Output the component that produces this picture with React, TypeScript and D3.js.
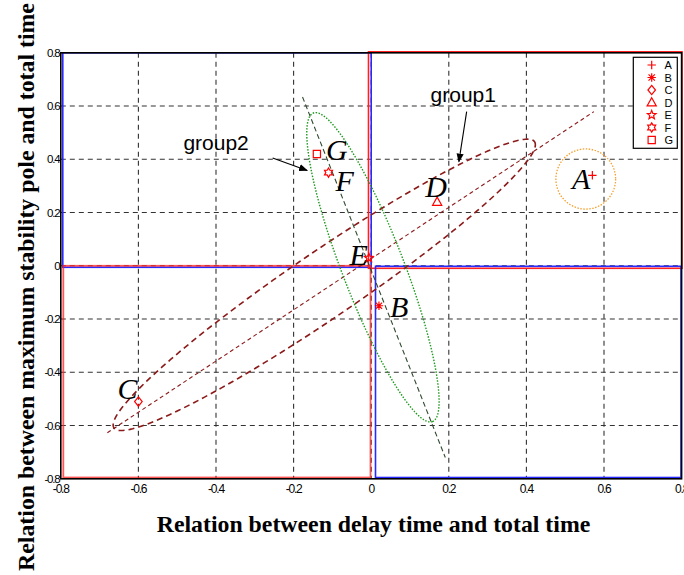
import React from "react";
import * as d3 from "d3";

// ---------- data ----------
const xTicks = [-0.8, -0.6, -0.4, -0.2, 0, 0.2, 0.4, 0.6, 0.8];
const yTicks = [-0.8, -0.6, -0.4, -0.2, 0, 0.2, 0.4, 0.6, 0.8];
const xTickLabels = ["-0.8", "-0.6", "-0.4", "-0.2", "0", "0.2", "0.4", "0.6", "0.8"];
const yTickLabels = ["-0.8", "-0.6", "-0.4", "-0.2", "0", "0.2", "0.4", "0.6", "0.8"];

const pointNames = ["A", "B", "C", "D", "E", "F", "G"];
const pointX = [0.57, 0.02, -0.6, 0.17, -0.006, -0.11, -0.14];
const pointY = [0.34, -0.15, -0.51, 0.24, 0.03, 0.35, 0.42];
const markerTypes = ["plus", "asterisk", "diamond", "triangle", "pentagram", "hexagram", "square"];

// group ellipses: tips in data coords
const groupNames = ["group1", "group2"];
const group1Tips = [[-0.663, -0.609], [0.421, 0.466]];
const group2Tips = [[-0.149, 0.574], [0.158, -0.585]];
const groupWidthRatio = [0.13, 0.187];
// group axis lines
const group1Axis = [[-0.68, -0.627], [0.574, 0.579]];
const group2Axis = [[-0.177, 0.634], [0.191, -0.72]];
// annotations: text position and arrow
const group1TextPos = [0.153, 0.617];
const group1Arrow = [[0.246, 0.579], [0.226, 0.391]];
const group2TextPos = [-0.484, 0.435];
const group2Arrow = [[-0.254, 0.405], [-0.165, 0.358]];
// circle around A
const circleA = { cx: 0.553, cy: 0.326, rx: 0.077, ry: 0.113 };

const xTitle = "Relation between delay time and total time";
const yTitle = "Relation between maximum stability pole and total time";

// ---------- layout ----------
const W = 684;
const H = 575;
const x = d3.scaleLinear().domain([-0.8, 0.8]).range([60.8, 681.6]);
const y = d3.scaleLinear().domain([-0.8, 0.8]).range([478.8, 52.8]);

function markerPath(type: string, cx: number, cy: number): string {
  const p = d3.path();
  const s = 4.2;
  if (type === "plus") {
    p.moveTo(cx - s, cy); p.lineTo(cx + s, cy);
    p.moveTo(cx, cy - s); p.lineTo(cx, cy + s);
  } else if (type === "asterisk") {
    p.moveTo(cx - s, cy); p.lineTo(cx + s, cy);
    p.moveTo(cx, cy - s); p.lineTo(cx, cy + s);
    const d = s * 0.75;
    p.moveTo(cx - d, cy - d); p.lineTo(cx + d, cy + d);
    p.moveTo(cx - d, cy + d); p.lineTo(cx + d, cy - d);
  } else if (type === "diamond") {
    p.moveTo(cx, cy - 4.6); p.lineTo(cx + 3.8, cy); p.lineTo(cx, cy + 4.6); p.lineTo(cx - 3.8, cy); p.closePath();
  } else if (type === "triangle") {
    p.moveTo(cx, cy - 4.8); p.lineTo(cx + 4.6, cy + 3.4); p.lineTo(cx - 4.6, cy + 3.4); p.closePath();
  } else if (type === "pentagram") {
    for (let i = 0; i < 10; i++) {
      const r = i % 2 === 0 ? 4.6 : 2.0;
      const a = -Math.PI / 2 + (i * Math.PI) / 5;
      const px = cx + r * Math.cos(a), py = cy + r * Math.sin(a);
      if (i === 0) p.moveTo(px, py); else p.lineTo(px, py);
    }
    p.closePath();
  } else if (type === "hexagram") {
    for (let i = 0; i < 12; i++) {
      const r = i % 2 === 0 ? 4.6 : 2.7;
      const a = -Math.PI / 2 + (i * Math.PI) / 6;
      const px = cx + r * Math.cos(a), py = cy + r * Math.sin(a);
      if (i === 0) p.moveTo(px, py); else p.lineTo(px, py);
    }
    p.closePath();
  } else if (type === "square") {
    p.rect(cx - 3.6, cy - 3.6, 7.2, 7.2);
  }
  return p.toString();
}

function ellipsePath(tips: number[][], ratio: number): string {
  const [x1, y1] = [x(tips[0][0]), y(tips[0][1])];
  const [x2, y2] = [x(tips[1][0]), y(tips[1][1])];
  const cx = (x1 + x2) / 2, cy = (y1 + y2) / 2;
  const a = Math.hypot(x2 - x1, y2 - y1) / 2;
  const b = a * ratio;
  const ang = Math.atan2(y2 - y1, x2 - x1);
  const pts: [number, number][] = d3.range(0, 200).map((i) => {
    const t = (i / 200) * Math.PI * 2;
    const ex = a * Math.cos(t), ey = b * Math.sin(t);
    return [cx + ex * Math.cos(ang) - ey * Math.sin(ang), cy + ex * Math.sin(ang) + ey * Math.cos(ang)];
  });
  return d3.line().curve(d3.curveLinearClosed)(pts) as string;
}

const labelStyle = [
  { anchor: "end", dx: -2, dy: 14 },
  { anchor: "start", dx: 11, dy: 11 },
  { anchor: "end", dx: -1, dy: -3 },
  { anchor: "middle", dx: -1, dy: -5 },
  { anchor: "end", dx: -1, dy: 7 },
  { anchor: "start", dx: 7, dy: 18 },
  { anchor: "start", dx: 9, dy: 6 },
];

export default function App() {
  const x0 = x(0), y0 = y(0);
  const xL = x(-0.8), xR = x(0.8), yT = y(0.8), yB = y(-0.8);
  const line = d3.line();
  const red = "#ff2020";
  const blue = "#2a2aff";
  return (
    <svg width={W} height={H} style={{ position: "absolute", left: 0, top: 0, background: "#fff" }}>
      <defs>
        <marker id="arrow" viewBox="0 0 10 10" refX="9" refY="5" markerWidth="9" markerHeight="9" orient="auto-start-reverse" markerUnits="userSpaceOnUse">
          <path d="M0,1 L10,5 L0,9 z" fill="#000" />
        </marker>
      </defs>
      <rect x={0} y={0} width={W} height={H} fill="#fff" />
      {/* grid */}
      {xTicks.slice(1, -1).map((t) => (
        <line key={"gx" + t} x1={x(t)} x2={x(t)} y1={yT} y2={yB} stroke="#333" strokeWidth={1.1} strokeDasharray="5,4" />
      ))}
      {yTicks.slice(1, -1).map((t) => (
        <line key={"gy" + t} x1={xL} x2={xR} y1={y(t)} y2={y(t)} stroke="#333" strokeWidth={1.1} strokeDasharray="5,4" />
      ))}
      {/* quadrant frames */}
      <rect x={xL + 2} y={yT} width={x0 - xL - 2} height={y0 + 1.5 - yT} fill="none" stroke={blue} strokeWidth={1.6} />
      <rect x={x0 - 2.7} y={yT - 1} width={xR + 0.4 - (x0 - 2.7)} height={y0 + 2.5 - yT + 1} fill="none" stroke={red} strokeWidth={1.6} />
      <rect x={xL + 2.5} y={y0} width={x0 - 0.7 - xL - 2.5} height={yB - 1.3 - y0} fill="none" stroke={red} strokeOpacity={0.75} strokeWidth={1.8} />
      <rect x={x0 + 4.3} y={y0 + 0.5} width={xR - 0.6 - x0 - 4.3} height={yB - 1.3 - y0 - 0.5} fill="none" stroke={blue} strokeWidth={1.6} />
      {/* axes box */}
      <rect x={xL} y={yT} width={xR - xL} height={yB - yT} fill="none" stroke="#000" strokeWidth={1.6} />
      {/* group1 */}
      <path d={line(group1Axis.map((d) => [x(d[0]), y(d[1])]) as [number, number][]) as string} fill="none" stroke="#8b1a1a" strokeWidth={1.1} strokeDasharray="4,3" />
      <path d={ellipsePath(group1Tips, groupWidthRatio[0])} fill="none" stroke="#8b1a1a" strokeWidth={1.6} strokeDasharray="6,4" />
      {/* group2 */}
      <path d={line(group2Axis.map((d) => [x(d[0]), y(d[1])]) as [number, number][]) as string} fill="none" stroke="#2f4a2f" strokeWidth={1.1} strokeDasharray="5,3" />
      <path d={ellipsePath(group2Tips, groupWidthRatio[1])} fill="none" stroke="#1f9a1f" strokeWidth={1.4} strokeDasharray="1.5,1.5" />
      {/* circle around A */}
      <ellipse cx={x(circleA.cx)} cy={y(circleA.cy)} rx={x(circleA.cx + circleA.rx) - x(circleA.cx)} ry={y(circleA.cy) - y(circleA.cy + circleA.ry)} fill="none" stroke="#f5a030" strokeWidth={1.3} strokeDasharray="1.5,1.5" />
      {/* annotations */}
      <text x={x(group1TextPos[0])} y={y(group1TextPos[1])} fontFamily="Liberation Sans, Arial, sans-serif" fontSize={21}>{groupNames[0]}</text>
      <line x1={x(group1Arrow[0][0])} y1={y(group1Arrow[0][1])} x2={x(group1Arrow[1][0])} y2={y(group1Arrow[1][1])} stroke="#000" strokeWidth={1.1} markerEnd="url(#arrow)" />
      <text x={x(group2TextPos[0])} y={y(group2TextPos[1])} fontFamily="Liberation Sans, Arial, sans-serif" fontSize={21}>{groupNames[1]}</text>
      <line x1={x(group2Arrow[0][0])} y1={y(group2Arrow[0][1])} x2={x(group2Arrow[1][0])} y2={y(group2Arrow[1][1])} stroke="#000" strokeWidth={1.1} markerEnd="url(#arrow)" />
      {/* points */}
      {pointNames.map((n, i) => (
        <g key={n}>
          <path d={markerPath(markerTypes[i], x(pointX[i]), y(pointY[i]))} fill="none" stroke="#ff0000" strokeWidth={1.2} />
          <text x={x(pointX[i]) + labelStyle[i].dx} y={y(pointY[i]) + labelStyle[i].dy} textAnchor={labelStyle[i].anchor as any} fontFamily="Liberation Serif, Times New Roman, serif" fontStyle="italic" fontSize={30}>{n}</text>
        </g>
      ))}
      {/* tick labels */}
      {xTicks.map((t, i) => (
        <text key={"xl" + t} x={x(t)} y={492.5} textAnchor="middle" fontFamily="Liberation Sans, Arial, sans-serif" fontSize={12} letterSpacing={-1.2}>{xTickLabels[i]}</text>
      ))}
      {yTicks.map((t, i) => (
        <text key={"yl" + t} x={59.5} y={y(t) + 4} textAnchor="end" fontFamily="Liberation Sans, Arial, sans-serif" fontSize={11.5} letterSpacing={-1.2}>{yTickLabels[i]}</text>
      ))}
      {/* legend */}
      <rect x={633.3} y={57.3} width={44} height={91} fill="#fff" stroke="#000" strokeWidth={1.2} />
      {pointNames.map((n, i) => (
        <g key={"lg" + n}>
          <path d={markerPath(markerTypes[i], 651.7, 65 + i * 12.5)} fill="none" stroke="#ff0000" strokeWidth={1.2} />
          <text x={664.5} y={65 + i * 12.5 + 4} fontFamily="Liberation Sans, Arial, sans-serif" fontSize={11}>{n}</text>
        </g>
      ))}
      {/* axis titles */}
      <text x={373.5} y={532} textAnchor="middle" fontFamily="Liberation Serif, Times New Roman, serif" fontWeight="bold" fontSize={23.8}>{xTitle}</text>
      <text transform="translate(34,287) rotate(-90)" textAnchor="middle" fontFamily="Liberation Serif, Times New Roman, serif" fontWeight="bold" fontSize={23.8}>{yTitle}</text>
    </svg>
  );
}
